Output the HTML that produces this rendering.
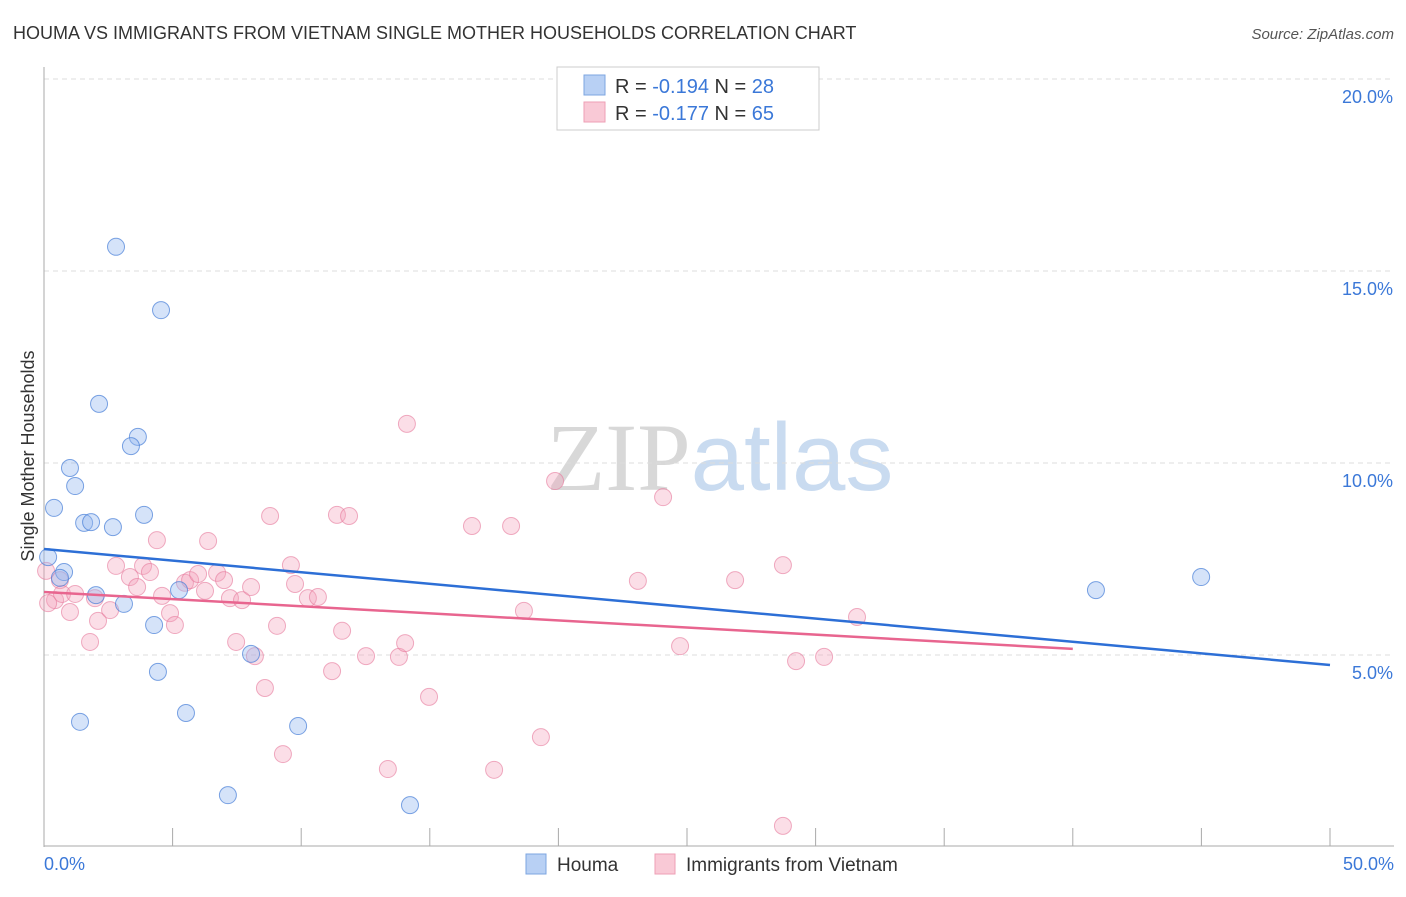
<!DOCTYPE html>
<html><head><meta charset="utf-8"><style>
body{margin:0;background:#fff;font-family:"Liberation Sans",sans-serif;}
svg text{font-family:"Liberation Sans",sans-serif;}
</style></head><body>
<svg id="chart" width="1406" height="892" xmlns="http://www.w3.org/2000/svg">
<text x="13" y="39" font-size="18" fill="#333">HOUMA VS IMMIGRANTS FROM VIETNAM SINGLE MOTHER HOUSEHOLDS CORRELATION CHART</text>
<text x="1394" y="39" font-size="15" fill="#555" text-anchor="end" font-style="italic">Source: ZipAtlas.com</text>
<text x="720" y="490" font-size="96" text-anchor="middle"><tspan fill="#d8d8d8" font-family="Liberation Serif">ZIP</tspan><tspan fill="#c9dbf0">atlas</tspan></text>
<text transform="translate(34,456) rotate(-90)" font-size="18" fill="#333" text-anchor="middle">Single Mother Households</text>
<g id="grid"></g><g id="axes"></g><g id="pts"></g><g id="lines"></g>
<g>
<rect x="557" y="67" width="262" height="63" fill="#fff" stroke="#ccc"/>
<rect x="584" y="75" width="21" height="20" fill="#b8d0f4" stroke="#7da6e0"/>
<rect x="584" y="102" width="21" height="20" fill="#f9c9d6" stroke="#ee9fb5"/>
<text x="615" y="93" font-size="20" fill="#333">R = <tspan fill="#3b78d8">-0.194</tspan>   N = <tspan fill="#3b78d8">28</tspan></text>
<text x="615" y="120" font-size="20" fill="#333">R = <tspan fill="#3b78d8">-0.177</tspan>   N = <tspan fill="#3b78d8">65</tspan></text>
</g>
<g>
<rect x="526" y="854" width="20" height="20" fill="#b8d0f4" stroke="#7da6e0"/>
<text x="557" y="871" font-size="19" fill="#333">Houma</text>
<rect x="655" y="854" width="20" height="20" fill="#f9c9d6" stroke="#ee9fb5"/>
<text x="686" y="871" font-size="19" fill="#333">Immigrants from Vietnam</text>
</g>
</svg>
<script>
const yTicks=[5,10,15,20];
const yTickLabels=["5.0%","10.0%","15.0%","20.0%"];
const xTickLabels=["0.0%","50.0%"];
const houmaX=[2.80,4.55,2.14,3.65,3.38,1.01,1.21,0.39,1.56,1.83,2.68,3.89,0.16,0.78,0.62,2.02,3.11,5.25,4.28,8.05,4.43,1.40,5.52,9.88,7.15,14.23,40.90,44.99];
const houmaY=[15.63,13.98,11.54,10.68,10.44,9.87,9.40,8.83,8.44,8.46,8.33,8.65,7.55,7.16,7.01,6.56,6.33,6.69,5.78,5.03,4.56,3.26,3.49,3.15,1.35,1.09,6.69,7.03];
const vietX=[0.08,0.62,0.43,1.01,0.70,1.21,1.79,2.10,1.98,2.57,2.80,3.34,3.62,3.85,4.12,4.39,4.59,4.90,5.09,5.48,5.68,5.99,6.26,6.38,6.73,7.00,7.23,7.47,7.70,8.05,8.20,8.59,8.79,9.06,9.29,9.60,9.76,10.26,10.65,11.20,11.39,11.59,11.86,12.52,13.37,13.80,14.04,14.11,14.97,16.64,17.50,18.16,18.66,19.32,19.87,23.09,24.07,24.73,26.87,28.73,28.73,29.24,30.33,31.61,0.16];
const vietY=[7.19,6.95,6.43,6.12,6.59,6.59,5.34,5.89,6.48,6.17,7.32,7.03,6.77,7.32,7.16,7.99,6.54,6.09,5.78,6.88,6.95,7.11,6.67,7.97,7.14,6.95,6.48,5.34,6.43,6.77,4.97,4.14,8.62,5.76,2.42,7.34,6.85,6.48,6.51,4.58,8.65,5.63,8.62,4.97,2.03,4.95,5.31,11.02,3.91,8.36,2.01,8.36,6.15,2.86,9.53,6.93,9.11,5.23,6.95,7.34,0.55,4.84,4.95,5.99,6.35];
const houmaTrendX=[0,50];
const houmaTrendY=[7.76,4.74];
const vietTrendX=[0,40];
const vietTrendY=[6.64,5.16];
const NS='http://www.w3.org/2000/svg';
const xs=v=>44+v/50*1286;
const ys=v=>847-v*38.4;
function mk(tag,attrs,parent){const e=document.createElementNS(NS,tag);for(const k in attrs)e.setAttribute(k,attrs[k]);document.getElementById(parent).appendChild(e);return e;}
yTicks.forEach((t,i)=>{
 const l=mk('line',{x1:44,x2:1394,y1:ys(t),y2:ys(t),stroke:'#ddd','stroke-dasharray':'5,4'},'grid');
 
 
 const tx=mk('text',{x:1393,y:ys(t)+24,'font-size':18,fill:'#3b78d8','text-anchor':'end'},'axes');
 tx.textContent=yTickLabels[i];
 
 
});
const ax=mk('line',{x1:44,x2:44,y1:67,y2:847,stroke:'#aaa'},'axes');


const bx=mk('line',{x1:44,x2:1394,y1:846,y2:846,stroke:'#aaa'},'axes');


for(let i=0;i<=10;i++){const t=mk('line',{x1:xs(i*5),x2:xs(i*5),y1:828,y2:846,stroke:'#aaa'},'axes');
 
 }
[[0,'start',44],[50,'end',1394]].forEach((d,i)=>{const t=mk('text',{x:d[2],y:870,'font-size':18,fill:'#3b78d8','text-anchor':d[1]},'axes');t.textContent=xTickLabels[i];
 
 });
vietX.forEach((v,i)=>{const c=mk('circle',{cx:xs(v),cy:ys(vietY[i]),r:8.5,fill:'rgba(244,160,185,0.35)',stroke:'rgba(230,120,155,0.6)'},'pts');
 
 });
houmaX.forEach((v,i)=>{const c=mk('circle',{cx:xs(v),cy:ys(houmaY[i]),r:8.5,fill:'rgba(150,185,240,0.4)',stroke:'rgba(70,125,215,0.7)'},'pts');
 
 });
const hl=mk('line',{x1:xs(houmaTrendX[0]),y1:ys(houmaTrendY[0]),x2:xs(houmaTrendX[1]),y2:ys(houmaTrendY[1]),stroke:'#2d6fd6','stroke-width':2.5},'lines');


const vl=mk('line',{x1:xs(vietTrendX[0]),y1:ys(vietTrendY[0]),x2:xs(vietTrendX[1]),y2:ys(vietTrendY[1]),stroke:'#e8658f','stroke-width':2.5},'lines');


</script>
</body></html>
